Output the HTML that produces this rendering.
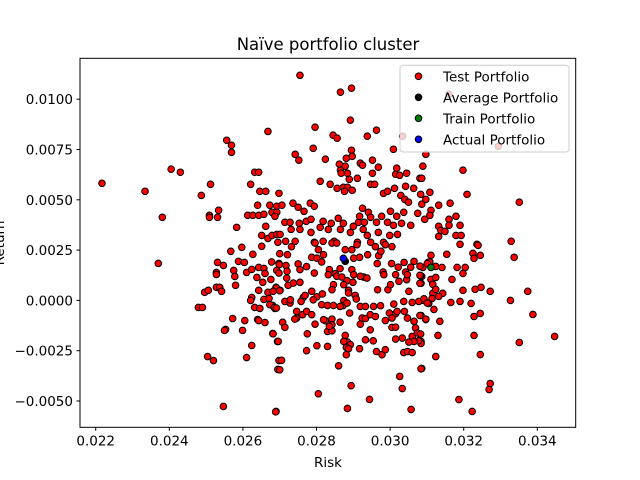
<!DOCTYPE html>
<html><head><meta charset="utf-8"><style>
html,body{margin:0;padding:0;background:#fff;}
svg{display:block;font-family:"DejaVu Sans","Liberation Sans",sans-serif;}
</style></head><body>
<svg id="chart" width="640" height="480" viewBox="0 0 640 480" xmlns="http://www.w3.org/2000/svg">
<rect x="0" y="0" width="640" height="480" fill="#fff"/>
<g id="marks"></g>
<g id="axes"></g>
<text x="328" y="50" text-anchor="middle" font-size="16.5" fill="#000">Naïve portfolio cluster</text>
<text x="328" y="467" text-anchor="middle" font-size="13.5" fill="#000">Risk</text>
<text transform="translate(4,243) rotate(-90)" text-anchor="middle" font-size="13.5" fill="#000">Return</text>
<g id="legend"></g>
</svg>
<script>
const xTicks = [0.022, 0.024, 0.026, 0.028, 0.030, 0.032, 0.034];
const xTickLabels = ["0.022","0.024","0.026","0.028","0.030","0.032","0.034"];
const yTicks = [-0.005, -0.0025, 0, 0.0025, 0.005, 0.0075, 0.01];
const yTickLabels = ["\u22120.0050","\u22120.0025","0.0000","0.0025","0.0050","0.0075","0.0100"];
const legendLabels = ["Test Portfolio","Average Portfolio","Train Portfolio","Actual Portfolio"];
const averagePoint = [0.02878, 0.00194];
const trainPoint = [0.03111, 0.00164];
const actualPoint = [0.02873, 0.00209];
const testPoints = [
[.02217,.00582],[.02334,.00542],[.02381,.00413],[.0237,.00184],[.02405,.00652],[.0243,.00637],[.02512,.00577],[.02487,.00522],
[.02668,.0084],[.02556,.00796],[.02569,.00771],[.02569,.00736],[.02621,.00577],[.02632,.00637],[.02643,.00637],[.02646,.00542],
[.02662,.00542],[.02698,.00532],[.02534,.00448],[.02509,.00423],[.02509,.00413],[.02531,.00413],[.0264,.00473],[.02673,.00473],
[.02692,.00468],[.02613,.00423],[.02627,.00423],[.02643,.00423],[.02657,.00428],[.02679,.00438],[.02692,.00438],[.02687,.00418],
[.02583,.00363],[.02662,.00368],[.02651,.00323],[.02668,.00308],[.02679,.00323],[.02692,.00328],
[.02567,.00244],[.02597,.00264],[.02651,.00269],[.02627,.00229],[.02531,.00189],[.02547,.00174],[.02528,.00139],[.02528,.00129],
[.02575,.00149],[.02578,.00119],[.02588,.00194],[.02604,.00189],[.0261,.00139],[.02624,.00154],[.02643,.00164],[.02657,.00159],
[.0266,.00134],[.02638,.00114],[.02654,.0009],[.02676,.00104],[.02692,.00149],[.02698,.00184],[.02528,.00065],[.02537,.00065],
[.02542,.00045],[.02496,.0004],[.02506,.0005],[.0258,.00075],[.02643,.0005],[.02668,.0004],[.0269,.00065],[.02701,.0005],
[.02624,.00015],[.02621,0],[.02657,.00005],[.02671,.0001],[.02632,-.00035],[.02646,-.0004],[.02681,-.00025],[.02687,-.0004],
[.02479,-.00035],[.0249,-.00035],[.02572,-.0009],[.02605,-.001],[.0264,-.00095],[.02643,-.001],[.0266,-.0011],[.02553,-.00144],
[.0255,-.00149],[.02599,-.00149],[.02681,-.00164],[.02694,-.00204],[.02624,-.00224],[.02504,-.00279],[.0252,-.00299],[.0261,-.00284],
[.02698,-.00299],[.02695,-.00343],[.02547,-.00527],[.0269,-.00552],
[.02706,.00473],[.02736,.00483],[.0275,.00463],[.02766,.00443],[.02783,.00483],[.02794,.00468],[.02714,.00388],[.02728,.00388],
[.02753,.00383],[.02772,.00393],[.02785,.00403],[.02818,.00393],[.0284,.00383],[.02859,.00408],[.02873,.00383],[.029,.00368],
[.02914,.00388],[.02917,.00418],[.02925,.00458],[.0293,.00388],[.02941,.00438],[.02947,.00413],[.02963,.00388],[.02977,.00418],
[.02993,.00388],[.03001,.00443],[.03009,.00373],[.03018,.00418],[.03031,.00383],[.03037,.00438],[.03056,.00373],[.02731,.00353],
[.02755,.00353],[.02785,.00338],[.0281,.00363],[.02832,.00353],[.02865,.00353],[.02892,.00338],[.02927,.00353],[.02938,.00323],
[.02968,.00338],[.02999,.00323],[.0302,.00328],[.02701,.00328],[.02695,.00289],[.02742,.00294],[.02794,.00289],[.02818,.00294],
[.02848,.00294],[.02911,.00289],[.02947,.00289],[.02982,.00289],
[.02755,.01119],[.02865,.01035],[.02895,.01055],[.02892,.00896],[.02796,.00861],[.02845,.00821],[.02856,.00806],[.02938,.00816],
[.02963,.00846],[.03009,.00751],[.02791,.00756],[.02742,.00726],[.02752,.00697],[.02824,.00702],[.02895,.00746],[.02897,.00716],
[.02881,.00706],[.0281,.00592],[.02837,.00577],[.02911,.00607],[.02889,.00602],[.02862,.00677],[.02878,.00667],[.02865,.00647],
[.02884,.00632],[.02867,.00632],[.02919,.00682],[.02925,.00672],[.02952,.00697],[.02968,.00662],[.02952,.00632],[.02856,.00557],
[.02873,.00562],[.02884,.00562],[.02876,.00542],[.02897,.00547],[.02947,.00577],[.02958,.00577],[.03018,.00657],[.03015,.00627],
[.03026,.00622],[.03045,.00632],[.03081,.00607],[.03089,.00667],[.02982,.00532],[.02993,.00542],[.03012,.00557],[.03029,.00522],
[.03042,.00567],[.03064,.00557],[.0304,.00502],[.0305,.00488],[.03083,.00527],[.03086,.00478],[.03097,.00502],[.03075,.00433],
[.03094,.00403],[.03034,.00816],[.0316,.01025],[.03294,.00766],
[.03097,.00726],[.03086,.00607],[.03198,.00647],[.03108,.00537],[.03209,.00527],[.03351,.00488],[.03111,.00448],[.03132,.00473],
[.03163,.00483],[.03108,.00423],[.03179,.00418],[.0316,.00403],[.0319,.00373],[.0316,.00373],[.03132,.00368],[.03138,.00348],
[.03149,.00343],[.03132,.00318],[.03179,.00323],[.03193,.00323],[.03236,.00279],[.03329,.00294],[.0319,.00279],
[.03239,.00274],[.03111,.00224],[.03154,.00229],[.03225,.00234],[.03228,.00209],[.03245,.00224],[.03337,.00214],[.03103,.00189],
[.03089,.00164],[.03124,.00169],[.03141,.00164],[.03182,.00164],[.03204,.00164],[.03198,.00134],[.03086,.00119],[.03111,.00104],
[.03124,.00114],[.03116,.0008],[.03168,.00104],[.03084,.00085],[.03116,.00035],[.03124,.00055],[.03143,.00035],[.03132,.0002],
[.03114,.0001],[.03091,0],[.03105,-.00015],[.03119,-.00045],[.03165,-.0001],[.0319,-.00005],[.0322,-.00015],[.03198,.0005],
[.03231,.00055],[.03247,.00065],[.03272,.00045],[.03327,0],[.03374,.00045],[.03228,-.0008],[.03245,-.00065],[.03388,-.0007],
[.03097,-.00095],[.03135,-.00104],[.03084,-.00075],[.0313,-.00174],[.03228,-.00174],[.03351,-.00209],[.03447,-.00179],[.03084,-.00204],
[.03084,-.00214],[.03124,-.00279],[.03245,-.00269],[.03086,-.00338],[.03272,-.00413],[.03269,-.00443],[.03187,-.00493],[.03223,-.00552],
[.02716,.00294],[.02732,.00267],[.027,.00232],[.02721,.00227],[.02796,.00285],[.02805,.00252],[.02787,.00214],[.02801,.0021],
[.02814,.00191],[.02819,.00227],[.02842,.00285],[.02855,.00285],[.02878,.00252],[.02896,.00252],[.0291,.00277],[.02901,.0021],
[.02917,.00214],[.02939,.00227],[.0296,.00267],[.02987,.00277],[.03005,.00267],[.02969,.00222],[.02975,.00244],[.02965,.00183],
[.03004,.00183],[.03022,.00165],[.03038,.00189],[.03065,.00194],[.03042,.00141],[.03056,.00165],[.03081,.0017],[.03083,.00123],
[.03081,.00085],[.03108,.00191],
[.02678,.00191],[.02699,.00178],[.02717,.00173],[.02698,.00136],[.0272,.00145],[.0275,.00181],[.02755,.00153],[.02773,.00168],
[.02794,.00136],[.02835,.00153],[.02851,.00133],[.02864,.00158],[.02832,.00128],[.02855,.0012],[.02869,.00116],[.02896,.00153],
[.02901,.00128],[.02928,.00116],[.02937,.00111],[.02883,.00098],[.02919,.0012],[.02981,.00141],[.02983,.00128],[.03015,.00128],
[.03024,.00095],[.03045,.00103],[.03047,.00128],[.03081,.00125],[.03101,.00183],
[.02691,.00062],[.02682,.00045],[.027,.00048],[.02719,.00111],[.02723,.00075],[.02737,.00086],[.02755,.0009],[.02764,.00015],
[.02787,.00045],[.02801,.00018],[.02816,.00032],[.02846,.00078],[.02842,.00053],[.02874,.00078],[.02887,.0005],[.02905,.00025],
[.02899,.0009],[.02908,.00007],[.02887,.00037],[.02874,-.00001],[.02966,.00053],[.02994,.00053],[.03001,.00078],[.03051,.00045],
[.02673,-.00021],[.02685,-.00035],[.02691,-.00038],[.02714,-.00005],[.02728,-.00013],[.02729,.00003],[.02758,-.00005],[.02769,.00025],
[.02791,.00003],[.02814,-.00021],[.0283,-.00025],[.02846,-.00025],[.02872,-.00026],[.02864,-.0003],[.02883,-.00013],[.02919,-.0003],
[.02933,-.0003],[.02955,-.0003],[.02974,-.00026],[.0301,-.00018],[.03037,-.00005],[.0306,-.0001],[.03078,-.00005],[.03092,.00008],
[.03101,-.00013],
[.02746,-.00055],[.02746,-.00088],[.02762,-.00071],[.02773,-.00055],[.02787,-.00071],[.02741,-.00093],[.02796,-.00118],[.02824,-.00101],
[.02842,-.00093],[.02819,-.00096],[.02842,-.00121],[.02864,-.00108],[.0289,-.00063],[.02924,-.00088],[.02933,-.0009],[.02946,-.00071],
[.02919,-.00118],[.0296,-.0008],[.02987,-.001],[.02998,-.00063],[.03015,-.00066],[.03019,-.00055],[.03039,-.00055],[.03005,-.00088],
[.03047,-.00088],[.03065,-.00104],[.03081,-.00075],[.03097,-.00093],
[.02708,-.00109],[.02714,-.00134],[.02775,-.00166],[.0283,-.00154],[.02842,-.00151],[.02835,-.00129],[.02878,-.00174],[.02946,-.00146],
[.03005,-.00134],[.03015,-.00133],[.03015,-.00192],[.03033,-.00187],[.0306,-.00179],[.03069,-.00137],[.03074,-.00162],[.03077,-.00201],
[.03083,-.00167],[.03065,-.00204],[.03051,-.00207],[.02884,-.00207],[.02874,-.00204],[.02892,-.0022],[.02881,-.00234],[.02887,-.0024],
[.02917,-.0024],[.02933,-.00196],[.02954,-.00201],[.02963,-.00254],[.02978,-.0027],[.02987,-.00245],[.03037,-.00259],[.03047,-.00254],
[.0306,-.00259],
[.02682,-.00166],[.02696,-.00204],[.02773,-.0025],[.02801,-.00225],[.0283,-.00229],[.02881,-.0027],[.02705,-.00298],[.027,-.00345],
[.0286,-.00325],[.03084,-.0034],[.03026,-.00378],[.03033,-.00438],[.02894,-.00424],[.02805,-.00464],[.02944,-.00492],[.02884,-.00537],
[.03057,-.00542],[.02689,-.00554]
];

const NS = "http://www.w3.org/2000/svg";
const L = 80, R = 575.7, T = 58.3, B = 427.3;
const X0 = 0.021573, X1 = 0.035043, Y0 = -0.006307, Y1 = 0.012033;
function xScale(v){ return L + (v - X0) / (X1 - X0) * (R - L); }
function yScale(v){ return B - (v - Y0) / (Y1 - Y0) * (B - T); }
function mk(tag, attrs){ const e = document.createElementNS(NS, tag); for (const k in attrs) e.setAttribute(k, attrs[k]); return e; }

const marks = document.getElementById('marks');
testPoints.forEach(function(p){
  const c = mk('circle', {cx: xScale(p[0]), cy: yScale(p[1]), r: 3.3, fill: '#ff0000', stroke: '#000', 'stroke-width': 1});
  
  
  marks.appendChild(c);
});
function special(p, color, name){
  const c = mk('circle', {cx: xScale(p[0]), cy: yScale(p[1]), r: 3.3, fill: color, stroke: '#000', 'stroke-width': 1});
  
  
  marks.appendChild(c);
}
special(averagePoint, '#000000', 'average-portfolio-point');
special(trainPoint, '#008000', 'train-portfolio-point');
special(actualPoint, '#0000ff', 'actual-portfolio-point');

const axes = document.getElementById('axes');
const frame = mk('rect', {x: L, y: T, width: R - L, height: B - T, fill: 'none', stroke: '#000', 'stroke-width': 1});


axes.appendChild(frame);
xTicks.forEach(function(v, i){
  const x = xScale(v);
  const t = mk('line', {x1: x, x2: x, y1: B, y2: B + 3.5, stroke: '#000', 'stroke-width': 1});
  
  
  axes.appendChild(t);
  const lb = mk('text', {x: x, y: B + 18, 'text-anchor': 'middle', 'font-size': 13.5, fill: '#000'});
  lb.textContent = xTickLabels[i];
  
  
  axes.appendChild(lb);
});
yTicks.forEach(function(v, i){
  const y = yScale(v);
  const t = mk('line', {x1: L - 3.5, x2: L, y1: y, y2: y, stroke: '#000', 'stroke-width': 1});
  
  
  axes.appendChild(t);
  const lb = mk('text', {x: L - 7, y: y + 5, 'text-anchor': 'end', 'font-size': 13.5, fill: '#000'});
  lb.textContent = yTickLabels[i];
  
  
  axes.appendChild(lb);
});

const legend = document.getElementById('legend');
const box = mk('rect', {x: 400, y: 65.3, width: 169, height: 86.7, rx: 3, fill: '#fff', 'fill-opacity': 0.8, stroke: '#ccc', 'stroke-width': 1});


legend.appendChild(box);
const legendColors = ['#ff0000', '#000000', '#008000', '#0000ff'];
legendLabels.forEach(function(lbl, i){
  const y = 76.3 + i * 21;
  const g = mk('g', {});
  
  
  const c = mk('circle', {cx: 418.5, cy: y, r: 3.3, fill: legendColors[i], stroke: '#000', 'stroke-width': 1});
  
  
  g.appendChild(c);
  const t = mk('text', {x: 443, y: y + 5, 'font-size': 13.5, fill: '#000'});
  t.textContent = lbl;
  
  
  g.appendChild(t);
  legend.appendChild(g);
});
</script>
</body></html>
